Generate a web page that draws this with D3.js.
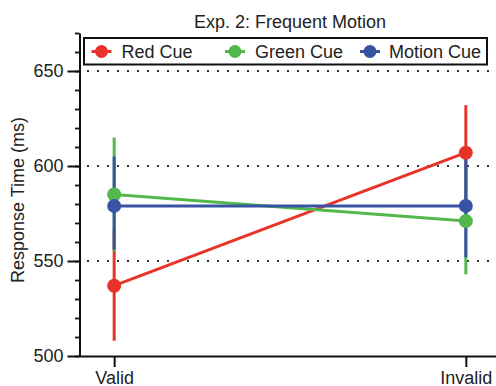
<!DOCTYPE html>
<html>
<head>
<meta charset="utf-8">
<script src="https://cdn.jsdelivr.net/npm/d3@7"></script>
<style>
  html, body { margin: 0; padding: 0; background: #fff; }
  svg { display: block; }
  text { font-family: "Liberation Sans", Arial, Helvetica, sans-serif; }
</style>
</head>
<body>
<svg id="chart" width="496" height="386"></svg>
<script>
// ---- data ----
const categories = ["Valid", "Invalid"];
const seriesNames = ["Red Cue", "Green Cue", "Motion Cue"];
const seriesColors = ["#e8332a", "#52b84b", "#3853a4"];
const redMeans = [537, 607];
const redLow = [508, 582];
const redHigh = [566, 632];
const greenMeans = [585, 571];
const greenLow = [555, 543];
const greenHigh = [615, 599];
const blueMeans = [579, 579];
const blueLow = [556, 552];
const blueHigh = [605, 606];
const yMajorTicks = [500, 550, 600, 650];
const yMinorTicks = d3.range(500, 671, 10);
const gridValues = [550, 600, 650];
const titleText = "Exp. 2: Frequent Motion";
const yLabelText = "Response Time (ms)";

const series = [
  { name: seriesNames[0], color: seriesColors[0], means: redMeans, low: redLow, high: redHigh },
  { name: seriesNames[1], color: seriesColors[1], means: greenMeans, low: greenLow, high: greenHigh },
  { name: seriesNames[2], color: seriesColors[2], means: blueMeans, low: blueLow, high: blueHigh }
];

const svg = d3.select("#chart");
const fontSize = 18;

const x = d3.scalePoint().domain(categories).range([79, 501]).padding(0.1);
const y = d3.scaleLinear().domain([500, 670]).range([356, 33]);

// gridlines
svg.append("g").selectAll("line").data(gridValues).join("line")
  .attr("x1", 87).attr("x2", 496)
  .attr("y1", d => y(d)).attr("y2", d => y(d))
  .attr("stroke", "#333").attr("stroke-width", 2)
  .attr("stroke-dasharray", "2,8");

// title
svg.append("text").attr("x", 290).attr("y", 27.5)
  .attr("text-anchor", "middle").attr("font-size", fontSize).attr("fill", "#222")
  .text(titleText);

// y label
svg.append("text")
  .attr("transform", "translate(24," + 200 + ") rotate(-90)")
  .attr("text-anchor", "middle").attr("font-size", fontSize).attr("fill", "#222")
  .text(yLabelText);

// y axis minor
const yMinor = svg.append("g").attr("transform", "translate(79.5,0)")
  .call(d3.axisLeft(y).tickValues(yMinorTicks).tickSize(4.5).tickSizeOuter(0).tickFormat(""));
yMinor.select(".domain").remove();
yMinor.selectAll("line").attr("stroke", "#111").attr("stroke-width", 1.8);

// y axis major
const yAxis = svg.append("g").attr("transform", "translate(79.5,0)")
  .call(d3.axisLeft(y).tickValues(yMajorTicks).tickSize(12).tickSizeOuter(0).tickPadding(4));
yAxis.select(".domain").attr("stroke", "#111").attr("stroke-width", 2);
yAxis.selectAll("line").attr("stroke", "#111").attr("stroke-width", 2);
yAxis.selectAll("text").attr("font-size", fontSize).attr("fill", "#222")
  .attr("font-family", "Liberation Sans, Arial, sans-serif");

// x axis
const xAxis = svg.append("g").attr("transform", "translate(0,356)")
  .call(d3.axisBottom(x).tickSize(11).tickSizeOuter(0).tickPadding(4));
xAxis.select(".domain").attr("stroke", "#111").attr("stroke-width", 2);
xAxis.selectAll("line").attr("stroke", "#111").attr("stroke-width", 2);
xAxis.selectAll("text").attr("font-size", fontSize).attr("fill", "#222")
  .attr("font-family", "Liberation Sans, Arial, sans-serif");

// error bars
const gErr = svg.append("g");
series.forEach(s => {
  gErr.append("g").selectAll("line").data(categories).join("line")
    .attr("x1", d => x(d)).attr("x2", d => x(d))
    .attr("y1", (d, i) => y(s.low[i])).attr("y2", (d, i) => y(s.high[i]))
    .attr("stroke", s.color).attr("stroke-width", 3);
});

// lines
const line = d3.line().x(d => x(d.c)).y(d => y(d.v));
const gLines = svg.append("g");
series.forEach(s => {
  gLines.append("path")
    .datum(categories.map((c, i) => ({ c: c, v: s.means[i] })))
    .attr("d", line).attr("fill", "none")
    .attr("stroke", s.color).attr("stroke-width", 3);
});

// markers
const gMarks = svg.append("g");
series.forEach(s => {
  gMarks.append("g").selectAll("circle").data(categories).join("circle")
    .attr("cx", d => x(d)).attr("cy", (d, i) => y(s.means[i]))
    .attr("r", 7).attr("fill", s.color);
});

// legend
const legend = svg.append("g");
legend.append("rect").attr("x", 84).attr("y", 38).attr("width", 403).attr("height", 26.5)
  .attr("fill", "#fff").attr("stroke", "#111").attr("stroke-width", 2);
const legendMarkX = [101.5, 235, 370];
const legendTextX = [121.5, 255, 389];
series.forEach((s, i) => {
  const g = legend.append("g");
  g.append("line").attr("x1", legendMarkX[i] - 10).attr("x2", legendMarkX[i] + 10)
    .attr("y1", 51.5).attr("y2", 51.5).attr("stroke", s.color).attr("stroke-width", 3);
  g.append("circle").attr("cx", legendMarkX[i]).attr("cy", 51.5).attr("r", 6.5).attr("fill", s.color);
  g.append("text").attr("x", legendTextX[i]).attr("y", 58)
    .attr("font-size", fontSize).attr("fill", "#222").text(s.name);
});
</script>
</body>
</html>
